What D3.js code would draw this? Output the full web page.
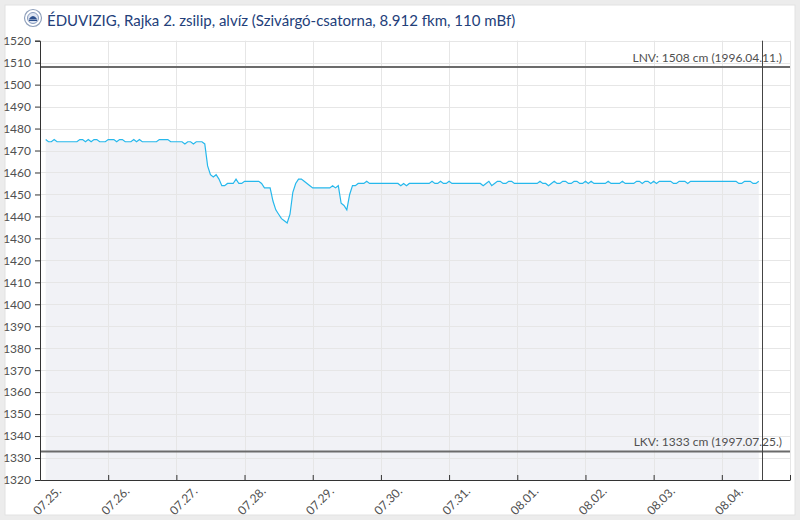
<!DOCTYPE html>
<html><head><meta charset="utf-8">
<script src="https://cdn.jsdelivr.net/npm/d3@7"></script>
<style>
html,body{margin:0;padding:0;background:#ececec;}
svg{display:block;font-family:Lato,"Open Sans",sans-serif;}
</style></head><body>
<svg id="chart" width="800" height="520"></svg>
<script>
// ---------- data ----------
const title = "ÉDUVIZIG, Rajka 2. zsilip, alvíz (Szivárgó-csatorna, 8.912 fkm, 110 mBf)";
const seriesStart = [2024, 6, 25, 2];     // 07.25. 02:00, hourly readings
const nowMark = [2024, 7, 4, 14];         // 08.04. 14:00
const domainStart = [2024, 6, 25, 0];
const domainEnd = [2024, 7, 5, 0];
const waterLevel = [
  1475,1474,1474,1475,1474,1474,1474,1474,1474,1474,1474,1474,           // 02-13
  1475,1475,1474,1475,1474,1475,1475,1474,1474,1474,                     // 14-23
  1475,1475,1475,1474,1475,1475,1474,1474,1474,1475,1474,1475,           // 24-35
  1474,1474,1474,1474,1474,1474,1475,1475,1475,1475,1474,1474,           // 36-47
  1474,1474,1474,1473,1474,1474,1473,1474,1474,1474,1473,1463,           // 48-59
  1459,1458,1459,1457,1454,1454,1455,1455,1455,1457,1455,1455,           // 60-71
  1456,1456,1456,1456,1456,1456,1455,1453,1453,1453,1447,1443,           // 72-83
  1441,1439,1438,1437,1441,1451,1455,1457,1457,1456,1455,1454,           // 84-95
  1453,1453,1453,1453,1453,1453,1453,1454,1453,1454,1446,1445,           // 96-107
  1443,1450,1454,1454,1455,1455,1455,1456,1455,1455,1455,1455,           // 108-119
  1455,1455,1455,1455,1455,1455,1455,1454,1455,1454,1455,1455,           // 120-131
  1455,1455,1455,1455,1455,1455,1456,1455,1455,1456,1455,1455,           // 132-143
  1456,1455,1455,1455,1455,1455,1455,1455,1455,1455,1455,1455,           // 144-155
  1454,1455,1456,1454,1455,1456,1456,1455,1455,1456,1456,1455,           // 156-167
  1455,1455,1455,1455,1455,1455,1455,1455,1456,1455,1455,1454,           // 168-179
  1455,1456,1455,1455,1456,1456,1455,1455,1456,1456,1455,1455,           // 180-191
  1456,1455,1456,1455,1455,1455,1455,1455,1456,1455,1455,1455,           // 192-203
  1455,1456,1455,1455,1455,1455,1456,1456,1455,1456,1456,1455,           // 204-215
  1456,1455,1456,1456,1456,1456,1456,1455,1455,1456,1456,1456,           // 216-227
  1455,1456,1456,1456,1456,1456,1456,1456,1456,1456,1456,1456,           // 228-239
  1456,1456,1456,1456,1456,1456,1455,1455,1456,1456,1456,1455,           // 240-251
  1455,1456                                                              // 252-253
];
const yTickValues = [1320,1330,1340,1350,1360,1370,1380,1390,1400,1410,1420,1430,1440,1450,1460,1470,1480,1490,1500,1510,1520];
const dayLabels = ["07.25.","07.26.","07.27.","07.28.","07.29.","07.30.","07.31.","08.01.","08.02.","08.03.","08.04."];
const refLines = [
  {value: 1508, label: "LNV: 1508 cm (1996.04.11.)"},
  {value: 1333, label: "LKV: 1333 cm (1997.07.25.)"}
];

// ---------- chart ----------
const svg = d3.select("#chart");
const m = {left: 40, right: 790, top: 40.7, bottom: 480};

svg.append("rect").attr("x",5).attr("y",5).attr("width",790).attr("height",510)
  .attr("fill","#fff").attr("stroke","#e2e2e2");

const mk = a => new Date(a[0], a[1], a[2], a[3]);
const t0 = mk(seriesStart);
const data = waterLevel.map((v,i) => ({t: d3.timeHour.offset(t0, i), v}));

const x = d3.scaleTime().domain([mk(domainStart), mk(domainEnd)]).range([m.left, m.right]);
const y = d3.scaleLinear().domain([1320,1520]).range([m.bottom, m.top]);
const dayTicks = d3.timeDay.range(mk(domainStart), d3.timeDay.offset(mk(domainEnd),1));

// area
svg.append("path").datum(data)
  .attr("d", d3.area().x(d=>x(d.t)).y0(y(1320)).y1(d=>y(d.v)))
  .attr("fill","#f1f2f6");

// grid
const grid = svg.append("g");
grid.selectAll("line.h").data(yTickValues).join("line")
  .attr("x1",m.left).attr("x2",m.right)
  .attr("y1",d=>Math.round(y(d))+0.5).attr("y2",d=>Math.round(y(d))+0.5)
  .attr("stroke","#e6e6e6");
grid.selectAll("line.v").data(dayTicks).join("line")
  .attr("y1",m.top).attr("y2",m.bottom)
  .attr("x1",d=>Math.round(x(d))+0.5).attr("x2",d=>Math.round(x(d))+0.5)
  .attr("stroke","#e6e6e6");

// line
svg.append("path").datum(data)
  .attr("d", d3.line().x(d=>x(d.t)).y(d=>y(d.v)))
  .attr("fill","none").attr("stroke","#26b8ec").attr("stroke-width",1.2);

// reference lines
refLines.forEach(r => {
  const yy = y(r.value);
  svg.append("line").attr("x1",m.left).attr("x2",m.right).attr("y1",yy).attr("y2",yy)
    .attr("stroke","#6b6b6b").attr("stroke-width",2);
  svg.append("text").attr("x",782).attr("y",yy-5.5).attr("text-anchor","end")
    .attr("font-size",12).attr("fill","#505050").text(r.label);
});

// now marker
svg.append("line").attr("x1",Math.round(x(mk(nowMark)))+0.5).attr("x2",Math.round(x(mk(nowMark)))+0.5)
  .attr("y1",m.top).attr("y2",m.bottom).attr("stroke","#444").attr("stroke-width",1);

// axes
const yAxis = svg.append("g").attr("transform",`translate(${m.left},0)`)
  .call(d3.axisLeft(y).tickValues(yTickValues).tickSize(5).tickPadding(4).tickFormat(d3.format("d")));
yAxis.select(".domain").attr("stroke","#333");
yAxis.selectAll(".tick line").attr("stroke","#333");
yAxis.selectAll("text").attr("font-size",12).attr("fill","#505050").attr("font-family","Lato");

const xAxis = svg.append("g").attr("transform",`translate(0,${m.bottom})`)
  .call(d3.axisBottom(x).tickValues(dayTicks).tickSizeInner(-5).tickSizeOuter(0).tickFormat(""));
xAxis.select(".domain").attr("stroke","#333");
xAxis.selectAll(".tick line").attr("stroke","#333");

svg.append("g").selectAll("text").data(dayTicks.slice(0, dayLabels.length)).join("text")
  .attr("transform",d=>`translate(${x(d)+22},${m.bottom+12}) rotate(-45)`)
  .attr("text-anchor","end").attr("font-size",12).attr("fill","#505050")
  .text((d,i)=>dayLabels[i]);

// title + emblem
const em = svg.append("g").attr("transform","translate(33,18)");
em.append("circle").attr("r",8.5).attr("fill","#fff").attr("stroke","#8fa0bb").attr("stroke-width",1.2);
em.append("circle").attr("r",5.5).attr("fill","#dfe6f2").attr("stroke","#6d84ad").attr("stroke-width",0.8);
em.append("path").attr("d","M-4,1 Q0,-5 4,1 Z").attr("fill","#2c4f8c");
em.append("rect").attr("x",-4).attr("y",1.5).attr("width",8).attr("height",1.5).attr("fill","#2c4f8c");
svg.append("text").attr("x",47).attr("y",26).attr("font-size",15).attr("fill","#23407a").text(title);
</script>
</body></html>
